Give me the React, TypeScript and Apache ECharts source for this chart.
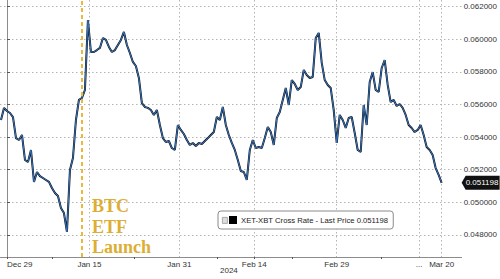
import React, { useEffect, useRef } from "react";
import * as echarts from "echarts";

// Weekday index of first sample (Dec 29 2023 = 0), spacing between samples in weekdays
const startIdx = -0.8;
const stepIdx = 0.4;

const rate: number[] = [
  0.05505, 0.05579, 0.0556, 0.05548, 0.05523, 0.05394, 0.05382, 0.05413, 0.0526, 0.05247,
  0.05321, 0.05125, 0.05186, 0.05161, 0.05149, 0.05137, 0.05125, 0.05088, 0.05057, 0.05039,
  0.04965, 0.04934, 0.04818, 0.05198, 0.05272, 0.05505, 0.05628, 0.0564, 0.05689, 0.06118,
  0.05922, 0.05922, 0.05934, 0.05947, 0.06008, 0.05996, 0.05953, 0.05922, 0.05934, 0.05965,
  0.05996, 0.06045, 0.05965, 0.05916, 0.05861, 0.05836, 0.05763, 0.05609, 0.05585, 0.05579,
  0.05566, 0.05536, 0.05566, 0.05474, 0.05394, 0.0537, 0.05376, 0.05333, 0.05321, 0.05474,
  0.05444, 0.05419, 0.05382, 0.05352, 0.05364, 0.05345, 0.05364, 0.05358, 0.05376, 0.05394,
  0.05413, 0.05431, 0.05523, 0.05505, 0.05585, 0.05474, 0.05413, 0.05364, 0.05321, 0.0526,
  0.05192, 0.05186, 0.05137, 0.05321, 0.05382, 0.05333, 0.05339, 0.05333, 0.05394, 0.05462,
  0.05431, 0.05352, 0.05517, 0.05554, 0.05628, 0.05701, 0.05597, 0.0575, 0.05726, 0.05689,
  0.05707, 0.05812, 0.05781, 0.05763, 0.05769, 0.06008, 0.06039, 0.05855, 0.0575, 0.0572,
  0.05701, 0.05566, 0.05364, 0.05536, 0.05505, 0.05456, 0.05517, 0.05523, 0.05425, 0.05321,
  0.05309, 0.05597, 0.05474, 0.05738, 0.05799, 0.05689, 0.05677, 0.05824, 0.05873, 0.0572,
  0.05615, 0.05628, 0.05591, 0.05603, 0.05579, 0.05536, 0.05474, 0.05456, 0.05431, 0.05444,
  0.05474, 0.05413, 0.05339, 0.05321, 0.0529, 0.0521, 0.05168, 0.051198,
];

const xLabelIdx = [0, 11, 23, 33, 44, 55, 58];
const xLabelText = ["Dec 29", "Jan 15", "Jan 31", "Feb 14", "Feb 29", "...", "Mar 20"];
const xMinorTickIdx = [0, 6, 17, 28, 33, 38, 50];
const yTicks = [0.048, 0.05, 0.052, 0.054, 0.056, 0.058, 0.06, 0.062];
const launchIdx = 10;
const seriesName = "XET-XBT Cross Rate - Last Price";
const launchText = ["BTC", "ETF", "Launch"];

const X_MIN = -0.9333;
const X_MAX = 60.667;
const Y_MIN = 0.046644;
const Y_MAX = 0.062411;

export default function App() {
  const ref = useRef<HTMLDivElement>(null);
  useEffect(() => {
    if (!ref.current) return;
    const chart = echarts.init(ref.current, null, { renderer: "svg" });
    const pts = rate.map((v, i) => [startIdx + i * stepIdx, v]);
    const last = rate[rate.length - 1];
    const gold = "#dcae33";
    chart.setOption({
      animation: false,
      backgroundColor: "#ffffff",
      grid: { left: 0, right: 38, top: 0, bottom: 22, containLabel: false },
      legend: {
        left: 218,
        top: 211,
        padding: [5, 5, 5, 11],
        backgroundColor: "#fff",
        borderColor: "#8a8a8a",
        borderWidth: 1,
        borderRadius: 3,
        icon: "rect",
        itemWidth: 8,
        itemHeight: 8,
        itemGap: 4,
        data: [seriesName],
        textStyle: { fontFamily: "Liberation Sans", fontSize: 7.7, color: "#222", padding: [0, 0, 0, -1] },
        formatter: (n: string) => `${n} ${last.toFixed(6)}`,
      },
      xAxis: [
        {
          type: "value",
          min: X_MIN,
          max: X_MAX,
          axisLine: { show: true, lineStyle: { color: "#8c8c8c", width: 1 } },
          axisTick: { show: false, customValues: xLabelIdx },
          splitLine: { show: true, lineStyle: { color: "#b5b5b5", type: [1.5, 2.5], width: 1 } },
          axisLabel: {
            customValues: xLabelIdx,
            formatter: (v: number) => xLabelText[xLabelIdx.indexOf(Math.round(v))] ?? "",
            fontFamily: "Liberation Sans",
            fontSize: 8,
            color: "#333",
            margin: 3,
            alignMinLabel: "left",
          },
        },
        {
          type: "value",
          min: X_MIN,
          max: X_MAX,
          position: "bottom",
          axisLine: { show: false },
          axisTick: { show: true, length: 2, customValues: xMinorTickIdx, lineStyle: { color: "#555", width: 1 } },
          axisLabel: { show: false },
          splitLine: { show: false },
        },
      ],
      yAxis: {
        type: "value",
        position: "right",
        min: Y_MIN,
        max: Y_MAX,
        axisLine: { show: true, lineStyle: { color: "#8c8c8c", width: 1 } },
        axisTick: { show: true, length: 3, customValues: yTicks, lineStyle: { color: "#555" } },
        splitLine: { show: true, lineStyle: { color: "#b5b5b5", type: [1.5, 2.5], width: 1 } },
        axisLabel: {
          customValues: yTicks,
          formatter: (v: number) => v.toFixed(6),
          fontFamily: "Liberation Sans",
          fontSize: 8,
          color: "#333",
          margin: 2,
        },
      },
      series: [
        {
          name: seriesName,
          type: "line",
          data: pts,
          showSymbol: false,
          symbol: "none",
          color: "#000",
          lineStyle: { color: "#111", width: 2 },
          z: 3,
          markLine: {
            silent: true,
            symbol: "none",
            data: [{ xAxis: launchIdx }],
            lineStyle: { color: "#e9b93c", type: [4, 3], width: 2 },
            label: { show: false },
          },
        },
        {
          name: "blue",
          type: "line",
          data: pts,
          showSymbol: false,
          symbol: "none",
          lineStyle: { color: "#3577c9", width: 1 },
          z: 4,
        },
      ],
    });
    // Last-price tag on the right axis, positioned through the axis scale
    const [tx, ty] = chart.convertToPixel({ gridIndex: 0 } as any, [X_MAX, last]) as number[];
    chart.setOption({
      graphic: [
        {
          type: "rect",
          left: 222,
          top: 217,
          shape: { width: 5, height: 6 },
          style: { fill: "#ddd", stroke: "#999", lineWidth: 0.8 },
          z: 100,
        },
        ...launchText.map((t, i) => ({
          type: "text",
          x: 92,
          y: 206 + i * 20.5,
          style: {
            text: t,
            fill: gold,
            font: "bold 18px 'Liberation Serif'",
            verticalAlign: "middle",
            align: "left",
          },
          z: 100,
        })),
        {
          type: "text",
          x: 220,
          y: 270,
          style: { text: "2024", fill: "#333", font: "8px 'Liberation Sans'", verticalAlign: "middle" },
        },
        {
          type: "group",
          x: tx,
          y: ty,
          z: 200,
          children: [
            {
              type: "polygon",
              shape: { points: [[0, 0], [4, -7], [38, -7], [38, 7], [4, 7]] },
              style: { fill: "#111" },
            },
            {
              type: "text",
              x: 4,
              y: 0,
              style: {
                text: last.toFixed(6),
                fill: "#fff",
                font: "8px 'Liberation Sans'",
                verticalAlign: "middle",
                align: "left",
              },
            },
          ],
        },
      ],
    });
    return () => chart.dispose();
  }, []);
  return (
    <div
      ref={ref}
      style={{ position: "fixed", left: 0, top: 0, width: 500, height: 279, background: "#fff" }}
    />
  );
}
